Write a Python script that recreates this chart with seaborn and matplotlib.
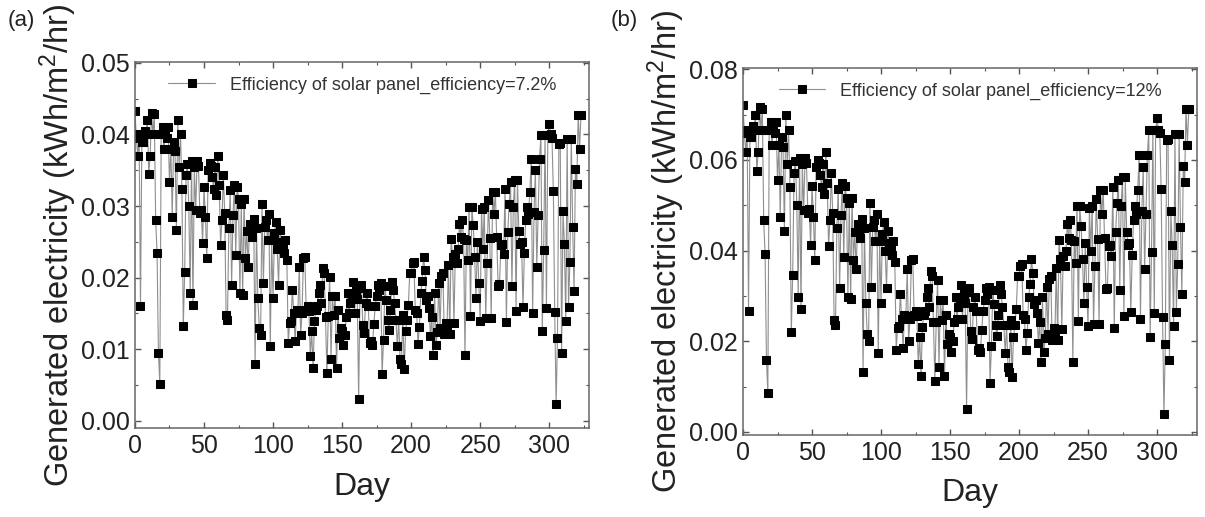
import numpy as np
import pandas as pd
import matplotlib
matplotlib.use("Agg")
import matplotlib.pyplot as plt
import seaborn as sns

# Daily generated electricity at 7.2 % panel efficiency (units of 0.001 kWh/m2/hr)
gen_72 = [
    43.3, 39.5, 37.0, 40.0, 16.0, 39.0, 39.0, 40.5, 40.0, 42.0,
    34.5, 37.0, 43.0, 40.0, 42.8, 28.0, 23.5, 9.5, 5.2, 40.0,
    41.0, 38.0, 40.3, 39.5, 41.0, 33.3, 38.0, 28.5, 39.0, 37.7,
    26.6, 42.0, 35.5, 40.0, 32.4, 13.2, 20.8, 34.3, 35.9, 30.0,
    17.8, 36.3, 16.2, 35.5, 29.4, 36.3, 35.6, 29.0, 29.5, 24.8,
    32.6, 28.5, 22.7, 35.0, 36.0, 35.6, 34.0, 32.4, 35.4, 31.5,
    37.0, 33.0, 24.6, 28.0, 34.3, 29.0, 14.8, 14.1, 27.0, 32.2,
    19.0, 28.7, 33.0, 23.1, 32.6, 31.0, 17.8, 30.3, 17.6, 31.0,
    22.7, 26.5, 21.5, 27.5, 26.6, 25.7, 28.2, 7.9, 27.0, 17.1,
    13.0, 12.0, 30.3, 19.2, 27.1, 28.0, 25.2, 28.9, 10.4, 25.2,
    17.1, 26.2, 27.8, 24.0, 19.0, 26.6, 25.0, 24.3, 23.4, 25.2,
    22.5, 10.9, 13.7, 14.0, 18.3, 15.0, 11.1, 15.5, 15.3, 21.5,
    12.0, 15.0, 22.7, 22.9, 15.5, 16.0, 15.3, 9.0, 12.5, 7.4,
    13.9, 15.5, 16.0, 17.8, 19.0, 16.5, 21.3, 20.6, 14.5, 6.7,
    14.6, 20.1, 8.6, 17.4, 14.8, 17.4, 7.4, 15.5, 11.6, 13.0,
    12.5, 10.6, 12.0, 14.5, 17.8, 15.0, 16.5, 17.1, 19.4, 15.0,
    18.3, 17.0, 3.0, 18.5, 19.0, 13.4, 12.3, 16.5, 17.8, 16.0,
    10.9, 11.1, 10.6, 13.5, 16.0, 17.5, 19.0, 18.3, 19.2, 6.5,
    11.3, 18.8, 16.9, 14.1, 12.7, 15.5, 19.4, 18.3, 16.5, 14.1,
    10.4, 14.1, 8.6, 7.9, 14.8, 7.2, 12.5, 14.1, 16.2, 20.6,
    20.6, 22.0, 22.2, 15.5, 15.0, 10.8, 13.1, 17.8, 19.6, 22.9,
    21.0, 16.9, 17.5, 15.7, 11.8, 14.5, 9.2, 17.8, 10.6, 12.4,
    19.2, 13.0, 20.3, 20.6, 12.2, 13.7, 12.9, 21.7, 12.2, 25.4,
    22.9, 13.6, 23.3, 22.0, 24.0, 27.5, 25.7, 28.0, 25.4, 9.2,
    25.2, 22.4, 29.9, 14.7, 29.9, 27.3, 22.9, 17.1, 25.0, 19.2,
    14.0, 29.6, 24.0, 29.9, 14.3, 22.0, 30.8, 25.5, 14.3, 32.0,
    28.9, 32.0, 25.7, 18.9, 19.1, 24.6, 24.7, 23.3, 32.4, 13.8,
    26.4, 30.3, 33.3, 18.8, 29.9, 33.7, 15.3, 33.7, 26.5, 24.7,
    25.0, 15.9, 23.4, 28.1, 29.9, 28.9, 32.0, 36.6, 15.0, 29.2,
    35.0, 21.5, 28.8, 36.6, 39.9, 12.6, 23.8, 39.9, 15.7, 39.9,
    41.5, 40.0, 39.5, 32.1, 15.2, 2.4, 11.6, 38.7, 38.8, 9.5,
    29.3, 24.7, 14.0, 39.4, 15.9, 22.2, 39.4, 27.1, 18.2, 35.2,
    33.1, 42.7, 38.0, 42.7,
]
days = list(range(len(gen_72)))

# second panel: same irradiance, efficiency 12 % instead of 7.2 %
efficiencies = [7.2, 12.0]
panel_tags = ["(a)", "(b)"]
legend_labels = ["Efficiency of solar panel_efficiency=7.2%",
                 "Efficiency of solar panel_efficiency=12%"]
y_ticks = [[0.00, 0.01, 0.02, 0.03, 0.04, 0.05],
           [0.00, 0.02, 0.04, 0.06, 0.08]]
y_limits = [(-0.001, 0.0501), (-0.0007, 0.0803)]
x_ticks = [0, 50, 100, 150, 200, 250, 300]

sns.set_style("ticks")
plt.rcParams["font.family"] = ["Liberation Sans", "DejaVu Sans"]
plt.rcParams["mathtext.fontset"] = "custom"
plt.rcParams["mathtext.rm"] = "Liberation Sans"
plt.rcParams["mathtext.it"] = "Liberation Sans:italic"

fig = plt.figure(figsize=(12.05, 5.17), dpi=100)
axes = [fig.add_axes([0.112, 0.172, 0.377, 0.708]),
        fig.add_axes([0.6166, 0.1586, 0.3768, 0.71])]

for i, ax in enumerate(axes):
    df = pd.DataFrame({"Day": days,
                       "gen": [v * 1e-3 * efficiencies[i] / 7.2 for v in gen_72]})
    sns.lineplot(data=df, x="Day", y="gen", ax=ax, sort=False, estimator=None,
                 color="#8f8f8f", lw=0.8, marker="s", markersize=6,
                 markerfacecolor="black", markeredgecolor="black",
                 label=legend_labels[i])
    ax.set_xlim(0, 329)
    ax.set_ylim(*y_limits[i])
    ax.set_xticks(x_ticks)
    ax.set_xticks(np.arange(0, 330, 25), minor=True)
    ax.set_yticks(y_ticks[i])
    ax.set_yticklabels([f"{t:.2f}" for t in y_ticks[i]])
    step = y_ticks[i][1] - y_ticks[i][0]
    ax.set_yticks(np.arange(0, y_ticks[i][-1] + 1e-9, step / 2), minor=True)
    ax.tick_params(which="both", direction="in", top=True, right=True,
                   colors="#555555", labelcolor="#222222", labelsize=18)
    ax.tick_params(which="major", length=4.5, width=1, pad=4)
    ax.tick_params(which="minor", length=2.5, width=0.8)
    for s in ax.spines.values():
        s.set_color("#666666")
        s.set_linewidth(1.1)
    ax.set_xlabel("Day", fontsize=23, color="#222222", labelpad=10)
    ax.set_ylabel("Generated electricity (kWh/m$^2$/hr)", fontsize=23.5,
                  color="#222222", labelpad=1)
    leg = ax.legend(loc="upper center", frameon=False, fontsize=13,
                    handlelength=2.6, borderaxespad=0.4)
    for t in leg.get_texts():
        t.set_color("#333333")

fig.text(0.006, 0.95, panel_tags[0], fontsize=16, color="#222222")
fig.text(0.507, 0.95, panel_tags[1], fontsize=16, color="#222222")

fig.savefig("out.png", dpi=100, facecolor="white")
